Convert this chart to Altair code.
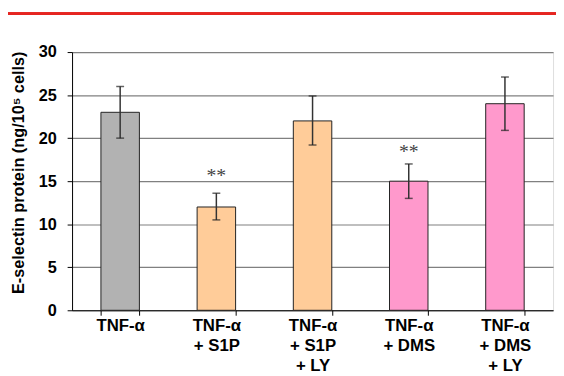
import altair as alt
import pandas as pd

keys = ["a", "b", "c", "d", "e"]
labels = ["TNF-α", "TNF-α\n+ S1P", "TNF-α\n+ S1P\n+ LY", "TNF-α\n+ DMS", "TNF-α\n+ DMS\n+ LY"]
values = [23, 12, 22, 15, 24]
err_lo = [20.0, 10.5, 19.2, 13.0, 20.9]
err_hi = [26.0, 13.6, 24.9, 17.0, 27.1]
colors = ["#B2B2B2", "#FFCC99", "#FFCC99", "#FF99CC", "#FF99CC"]
stars = ["", "**", "", "**", ""]
star_y = [None, 15.9, None, 18.7, None]

df = pd.DataFrame({
    "key": keys, "label": labels, "value": values, "lo": err_lo, "hi": err_hi,
    "color": colors, "star": stars, "star_y": star_y,
})

lookup = "{" + ",".join(f"'{k}': '{l.replace(chr(10), '|')}'" for k, l in zip(keys, labels)) + "}"
label_expr = f"isString({lookup}[datum.value]) ? split({lookup}[datum.value], '|') : ''"

W, H = 488, 262

x = alt.X("key:N", sort=keys, title=None,
          scale=alt.Scale(paddingInner=0.6, paddingOuter=0.3),
          axis=alt.Axis(labelExpr=label_expr, labelAngle=0, labelFont="Liberation Sans",
                        labelFontSize=17, labelFontWeight="bold", labelColor="#000",
                        labelLineHeight=20, labelPadding=3, tickBand="extent",
                        tickSize=5, tickColor="#000", domainColor="#000", grid=False))
y = alt.Y("value:Q", title="E-selectin protein (ng/10⁵ cells)",
          scale=alt.Scale(domain=[0, 30], nice=False),
          axis=alt.Axis(values=[0, 5, 10, 15, 20, 25, 30], labelFont="Liberation Sans",
                        labelFontSize=16.5, labelFontWeight="bold", labelColor="#000",
                        labelPadding=11, tickSize=5, tickColor="#000", domainColor="#000",
                        gridColor="#808080", gridWidth=1.2, gridOpacity=1,
                        titleFont="Liberation Sans", titleFontSize=16.5, titleFontWeight="bold",
                        titleColor="#000", titleX=-54, titleY=122, titleAngle=-90,
                        titleAlign="center", titleBaseline="middle"))

base = alt.Chart(df)

bars = base.mark_bar(stroke="#222", strokeWidth=1).encode(
    x=x, y=y, color=alt.Color("color:N", scale=None))

err = base.mark_rule(color="#333", strokeWidth=1.5).encode(
    x=alt.X("key:N", sort=keys), y="lo:Q", y2="hi:Q")
cap_lo = base.mark_tick(color="#222", thickness=1.5, size=8).encode(
    x=alt.X("key:N", sort=keys), y="lo:Q")
cap_hi = base.mark_tick(color="#222", thickness=1.5, size=8).encode(
    x=alt.X("key:N", sort=keys), y="hi:Q")

star_txt = base.transform_filter("datum.star != ''").mark_text(
    font="Liberation Serif", fontSize=20, color="#444", baseline="middle", dy=3
).encode(x=alt.X("key:N", sort=keys), y="star_y:Q", text="star:N")

red = alt.Chart(df).mark_rule(color="#E52521", strokeWidth=2.5).encode(
    x=alt.value(-70), x2=alt.value(W + 5), y=alt.value(-39))

chart = alt.layer(bars, err, cap_lo, cap_hi, star_txt, red).properties(
    width=W, height=H,
    autosize=alt.AutoSizeParams(type="none"),
    padding={"left": 65, "top": 42, "right": 3, "bottom": 66},
).configure_view(stroke="#000", strokeWidth=1).configure(background="#ffffff")

chart.save("out.html", embed_options={"renderer": "svg", "actions": False})
